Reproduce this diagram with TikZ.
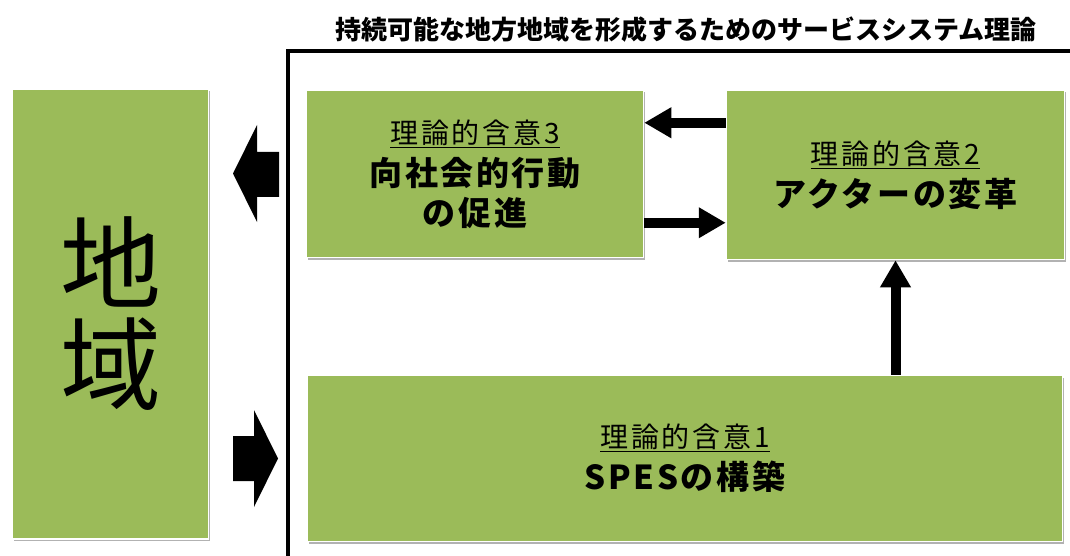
\documentclass[tikz,border=0pt]{standalone}
\usepackage{fontspec}
\setmainfont{Noto Sans CJK JP}
\usetikzlibrary{arrows.meta,shadows,calc}
\definecolor{boxgreen}{HTML}{9BBB59}
\newcommand{\implabel}[1]{{\fontsize{28}{32}\selectfont\addfontfeature{LetterSpace=10}\underline{#1}}}
\newcommand{\impmain}[1]{{\bfseries\addfontfeature{LetterSpace=8}#1}}
\begin{document}
\begin{tikzpicture}[x=1pt,y=-1pt,
  greenbox/.style={fill=boxgreen, draw=white, line width=1.5pt,
    drop shadow={shadow xshift=1.5pt, shadow yshift=-2pt, opacity=0.3, fill=black},
    align=center, inner sep=0pt, font=\fontsize{33}{40}\selectfont},
  bigchar/.style={inner sep=0pt, font=\fontsize{101}{101}\selectfont},
  flow/.style={line width=10pt, -{Triangle[length=27pt,width=29pt]}},
  blockarrow/.style={fill=black},
  frameline/.style={line width=3.5pt}]
\useasboundingbox (0,0) rectangle (1070,556);

% title and frame
\node[font=\bfseries\fontsize{26}{26}\selectfont] (title) at (686,30) {持続可能な地方地域を形成するためのサービスシステム理論};
\coordinate (fbot) at (288,560);
\coordinate (fcorner) at (288,51);
\coordinate (fright) at (1075,51);
\draw[frameline] (fbot) -- (fcorner) -- (fright);

% boxes
\node[greenbox, minimum width=196pt, minimum height=450pt] (region) at (110.5,314) {};
\node[bigchar] (chi) at ($(region.center)+(0,-52)$) {地};
\node[bigchar] (iki) at ($(region.center)+(0,50)$) {域};
\node[greenbox, minimum width=337pt, minimum height=167pt] (imp3) at (475,174)
  {\implabel{理論的含意3}\\[2pt]\impmain{向社会的行動}\\\impmain{の促進}};
\node[greenbox, minimum width=338pt, minimum height=169pt] (imp2) at (895.5,175)
  {\implabel{理論的含意2}\\[2pt]\impmain{アクターの変革}};
\node[greenbox, minimum width=755pt, minimum height=166pt] (imp1) at (685,458.5)
  {\implabel{理論的含意1}\\[2pt]\impmain{SPESの構築}};

% flows
\draw[flow] ($(imp2.north west)+(0,33)$) -- ($(imp3.north east)+(0,33)$);
\draw[flow] ($(imp3.north east)+(0,133)$) -- ($(imp2.north west)+(0,133)$);
\draw[flow] (imp1.north -| imp2.south) -- (imp2.south);

% block arrows
\fill[blockarrow] (279,152) -- (257,152) -- (257,125) -- (233,173.5) -- (257,222) -- (257,197) -- (279,197) -- cycle;
\fill[blockarrow] (233,436) -- (254,436) -- (254,410) -- (278,458.5) -- (254,507) -- (254,481) -- (233,481) -- cycle;
\end{tikzpicture}
\end{document}
